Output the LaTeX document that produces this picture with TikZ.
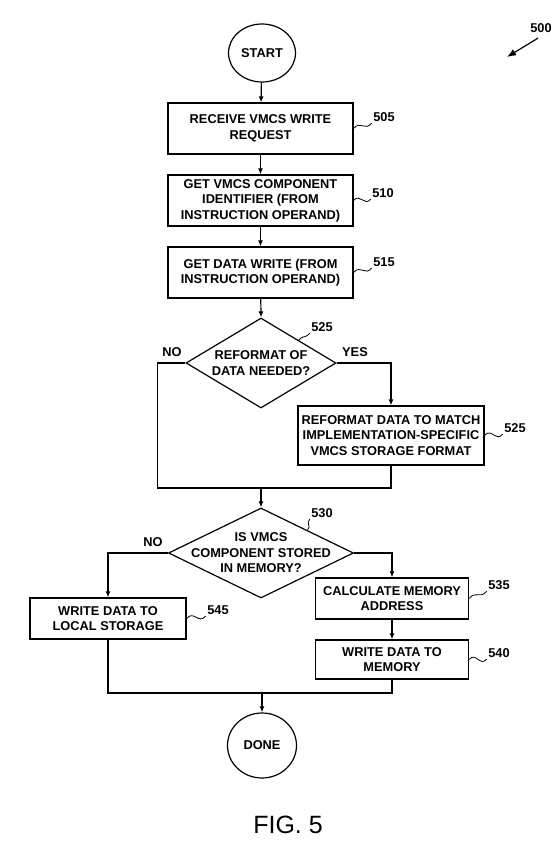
\documentclass[tikz,border=0pt]{standalone}
\usepackage{fontspec}
\setmainfont{Liberation Sans}
\usetikzlibrary{shapes.geometric,arrows.meta}

\tikzset{
    txt/.style={font=\fontsize{12.8}{15.5}\selectfont\bfseries},
    proc/.style={draw, rectangle, txt, align=center, inner sep=2pt},
    decision/.style={draw, diamond, inner sep=0pt},
    terminal/.style={draw, ellipse, txt, inner sep=0pt},
    arr/.style={-{Latex[length=6pt,width=5pt]}},
    ref/.style={txt, inner sep=1pt},
    tilde/.style={line width=0.8pt, out=50, in=230, looseness=1.5}
}

\begin{document}
\begin{tikzpicture}[x=1pt, y=-1pt, line width=1.2pt]
        \useasboundingbox (0,0) rectangle (556,842);

        % Steps
        \node[terminal, minimum width=67pt, minimum height=58pt] (start) at (262,53) {START};
        \node[proc, minimum width=185pt, minimum height=51pt] (b505) at (260.5,128.5) {RECEIVE VMCS WRITE\\REQUEST};
        \node[proc, minimum width=185pt, minimum height=51pt] (b510) at (260.5,200.5) {GET VMCS COMPONENT\\IDENTIFIER (FROM\\INSTRUCTION OPERAND)};
        \node[proc, minimum width=185pt, minimum height=51pt] (b515) at (260.5,272.5) {GET DATA WRITE (FROM\\INSTRUCTION OPERAND)};
        \node[decision, minimum width=150pt, minimum height=90pt,
              label={[txt, align=center]center:REFORMAT OF\\DATA NEEDED?}] (d525) at (261,363) {};
        \node[proc, minimum width=186pt, minimum height=59pt] (b525r) at (391,435.5) {REFORMAT DATA TO MATCH\\IMPLEMENTATION-SPECIFIC\\VMCS STORAGE FORMAT};
        \node[decision, minimum width=185pt, minimum height=90pt,
              label={[txt, align=center]center:IS VMCS\\COMPONENT STORED\\IN MEMORY?}] (d530) at (261,553) {};
        \node[proc, minimum width=156pt, minimum height=41pt] (b545) at (108,618.5) {WRITE DATA TO\\LOCAL STORAGE};
        \node[proc, minimum width=153pt, minimum height=41pt] (b535) at (392,598.5) {CALCULATE MEMORY\\ADDRESS};
        \node[proc, minimum width=153pt, minimum height=39pt] (b540) at (392,659.5) {WRITE DATA TO\\MEMORY};
        \node[terminal, minimum width=69pt, minimum height=65pt] (done) at (262,745.5) {DONE};

        % Joins
        \coordinate (j1) at (261,488);
        \coordinate (j2) at (262,693);

        % Arrows
        \draw[arr] (start) -- (b505);
        \draw[arr] (b505) -- (b510);
        \draw[arr] (b510) -- (b515);
        \draw[arr] (b515) -- (d525.north);
        \draw[arr] (d525.east) -| (b525r.north);
        \draw (d525.west) -- ++(-28,0) |- (j1);
        \draw (b525r.south) |- (j1);
        \draw[arr] (j1) -- (d530.north);
        \draw[arr] (d530.west) -| (b545.north);
        \draw[arr] (d530.east) -| (b535.north);
        \draw[arr] (b535) -- (b540);
        \draw (b545.south) |- (j2);
        \draw (b540.south) |- (j2);
        \draw[arr] (j2) -- (done.north);

        % Branch labels
        \node[ref] (no1) at (172,352) {NO};
        \node[ref] (yes1) at (355,352) {YES};
        \node[ref] (no2) at (153,542) {NO};

        % Reference numerals
        \node[ref] (l505) at (384,117) {505};
        \node[ref] (l510) at (383,193) {510};
        \node[ref] (l515) at (384,262) {515};
        \node[ref] (l525a) at (322,327) {525};
        \node[ref] (l525b) at (515,428) {525};
        \node[ref] (l530) at (322,513) {530};
        \node[ref] (l535) at (499,585) {535};
        \node[ref] (l540) at (499,653) {540};
        \node[ref] (l545) at (218,610) {545};
        \draw[tilde] (b505.east) to (l505.south west);
        \draw[tilde] (b510.east) to (l510.south west);
        \draw[tilde] (b515.east) to (l515.south west);
        \draw[tilde] (d525.north east) to (l525a.south west);
        \draw[tilde] (b525r.east) to (l525b.south west);
        \draw[tilde] (d530.north east) to (l530.south west);
        \draw[tilde] (b535.east) to (l535.south west);
        \draw[tilde] (b540.east) to (l540.south west);
        \draw[tilde] (b545.east) to (l545.south west);

        % Figure number
        \node[ref] (l500) at (541,28) {500};
        \coordinate (p500) at (507,57);
        \draw[-{Latex[length=9pt,width=7pt]}] (l500.south) ++(-3,4) -- (p500);
        \node[font=\fontsize{25}{30}\selectfont] (fig) at (288,825) {FIG. 5};
\end{tikzpicture}
\end{document}
